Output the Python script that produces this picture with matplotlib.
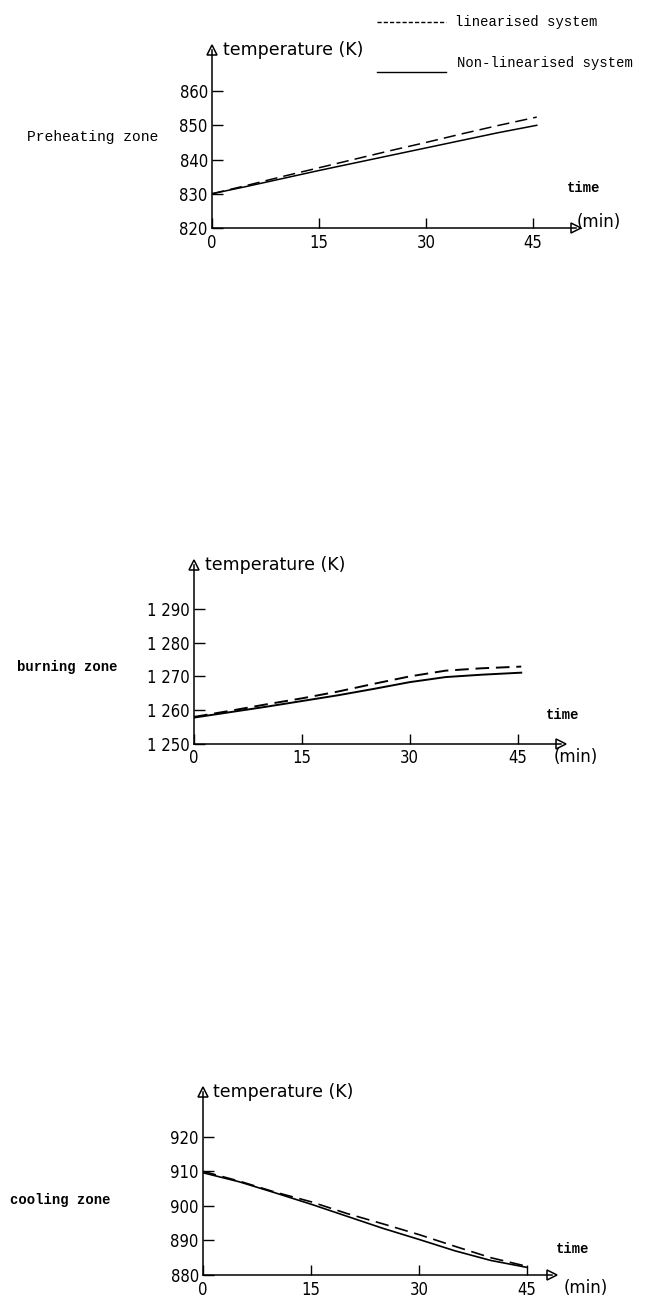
import matplotlib
matplotlib.use('Agg')
import matplotlib.pyplot as plt
from matplotlib.lines import Line2D

# preheating zone
t_pre = [0, 5, 10, 15, 20, 25, 30, 35, 40, 45.5]
pre_lin = [830.0, 832.5, 835.1, 837.6, 840.1, 842.6, 845.0, 847.5, 849.9, 852.4]
pre_non = [830.0, 832.2, 834.5, 836.8, 839.0, 841.2, 843.4, 845.6, 847.8, 850.0]

# burning zone
t_burn = [0, 5, 10, 15, 20, 25, 30, 35, 40, 45.5]
burn_lin = [1258.0, 1259.8, 1261.7, 1263.5, 1265.5, 1267.8, 1270.0, 1271.7, 1272.4, 1272.9]
burn_non = [1257.8, 1259.4, 1261.0, 1262.7, 1264.4, 1266.3, 1268.3, 1269.8, 1270.5, 1271.1]

# cooling zone
t_cool = [0, 5, 10, 15, 20, 25, 30, 35, 40, 45]
cool_lin = [910.0, 907.2, 904.0, 901.2, 897.8, 894.8, 891.7, 888.3, 885.0, 882.5]
cool_non = [909.6, 907.0, 903.8, 900.5, 897.0, 893.5, 890.3, 887.0, 884.2, 882.2]

xticks = [0, 15, 30, 45]
pre_yticks = [820, 830, 840, 850, 860]
burn_yticks = [1250, 1260, 1270, 1280, 1290]
burn_ylabels = ['1 250', '1 260', '1 270', '1 280', '1 290']
cool_yticks = [880, 890, 900, 910, 920]

W, H = 648, 1299
fig = plt.figure(figsize=(W / 100, H / 100), dpi=100)

tickfont = {'family': 'DejaVu Sans', 'size': 12, 'stretch': 'condensed'}
mono = 'Liberation Mono'


def zone_axes(rect, ylim, yticks, ylabels, xmax):
    ax = fig.add_axes(rect)
    ax.patch.set_visible(False)
    ax.set_xlim(0, xmax)
    ax.set_ylim(*ylim)
    ax.spines['top'].set_visible(False)
    ax.spines['right'].set_visible(False)
    ax.spines['left'].set_linewidth(1.1)
    ax.spines['bottom'].set_linewidth(1.1)
    ax.set_xticks(xticks)
    ax.set_xticklabels([str(x) for x in xticks], fontdict=tickfont)
    ax.set_yticks(yticks)
    ax.set_yticklabels(ylabels, fontdict=tickfont)
    ax.tick_params(axis='y', direction='in', length=8, width=1, pad=3)
    ax.tick_params(axis='x', direction='in', length=7, width=1, pad=4)
    ax.plot(0, 1, marker='^', ms=7, mfc='white', mec='black', mew=1.1,
            transform=ax.transAxes, clip_on=False)
    ax.plot(1, 0, marker='>', ms=7, mfc='white', mec='black', mew=1.1,
            transform=ax.transAxes, clip_on=False)
    ax.text(0.03, 1.0, 'temperature (K)', transform=ax.transAxes,
            ha='left', va='center', fontsize=12.5, family='DejaVu Sans')
    return ax


def fx(px):
    return px / W


def fy(py):
    return 1 - py / H


# preheating
ax1 = zone_axes([0.3272, 0.8245, 0.5617, 0.137], (820, 872), pre_yticks,
                [str(v) for v in pre_yticks], 51)
ax1.plot(t_pre, pre_lin, color='black', lw=1.1, dashes=(8, 4))
ax1.plot(t_pre, pre_non, color='black', lw=1.1)

# burning
ax2 = zone_axes([0.2994, 0.4273, 0.566, 0.1378], (1250, 1303), burn_yticks,
                burn_ylabels, 51)
ax2.plot(t_burn, burn_lin, color='black', lw=1.4, dashes=(7, 3.5))
ax2.plot(t_burn, burn_non, color='black', lw=1.4)

# cooling
ax3 = zone_axes([0.3133, 0.0185, 0.5386, 0.1409], (880, 933), cool_yticks,
                [str(v) for v in cool_yticks], 48.5)
ax3.plot(t_cool, cool_lin, color='black', lw=1.2, dashes=(8, 4))
ax3.plot(t_cool, cool_non, color='black', lw=1.2)

# legend drawn by hand like in the original figure
fig.add_artist(Line2D([fx(377), fx(446)], [fy(22), fy(22)], color='black',
                      lw=1, dashes=(3, 1.5), transform=fig.transFigure))
fig.text(fx(455), fy(22), 'linearised system', family=mono, fontsize=10,
         ha='left', va='center')
fig.add_artist(Line2D([fx(377), fx(446)], [fy(72), fy(72)], color='black',
                      lw=1, transform=fig.transFigure))
fig.text(fx(457), fy(63), 'Non-linearised system', family=mono, fontsize=10,
         ha='left', va='center')

# zone names
fig.text(fx(27), fy(137), 'Preheating zone', family=mono, fontsize=10.5,
         ha='left', va='center')
fig.text(fx(17), fy(667), 'burning zone', family=mono, fontsize=10,
         fontweight='bold', ha='left', va='center')
fig.text(fx(10), fy(1200), 'cooling zone', family=mono, fontsize=10,
         fontweight='bold', ha='left', va='center')

# time / (min) labels
for tx, ty, mx, my in [(567, 188, 577, 222), (546, 715, 554, 757),
                       (556, 1249, 564, 1288)]:
    fig.text(fx(tx), fy(ty), 'time', family=mono, fontsize=10,
             fontweight='bold', ha='left', va='center')
    fig.text(fx(mx), fy(my), '(min)', family='DejaVu Sans', fontsize=12,
             ha='left', va='center')

fig.savefig('out.png', dpi=100)
